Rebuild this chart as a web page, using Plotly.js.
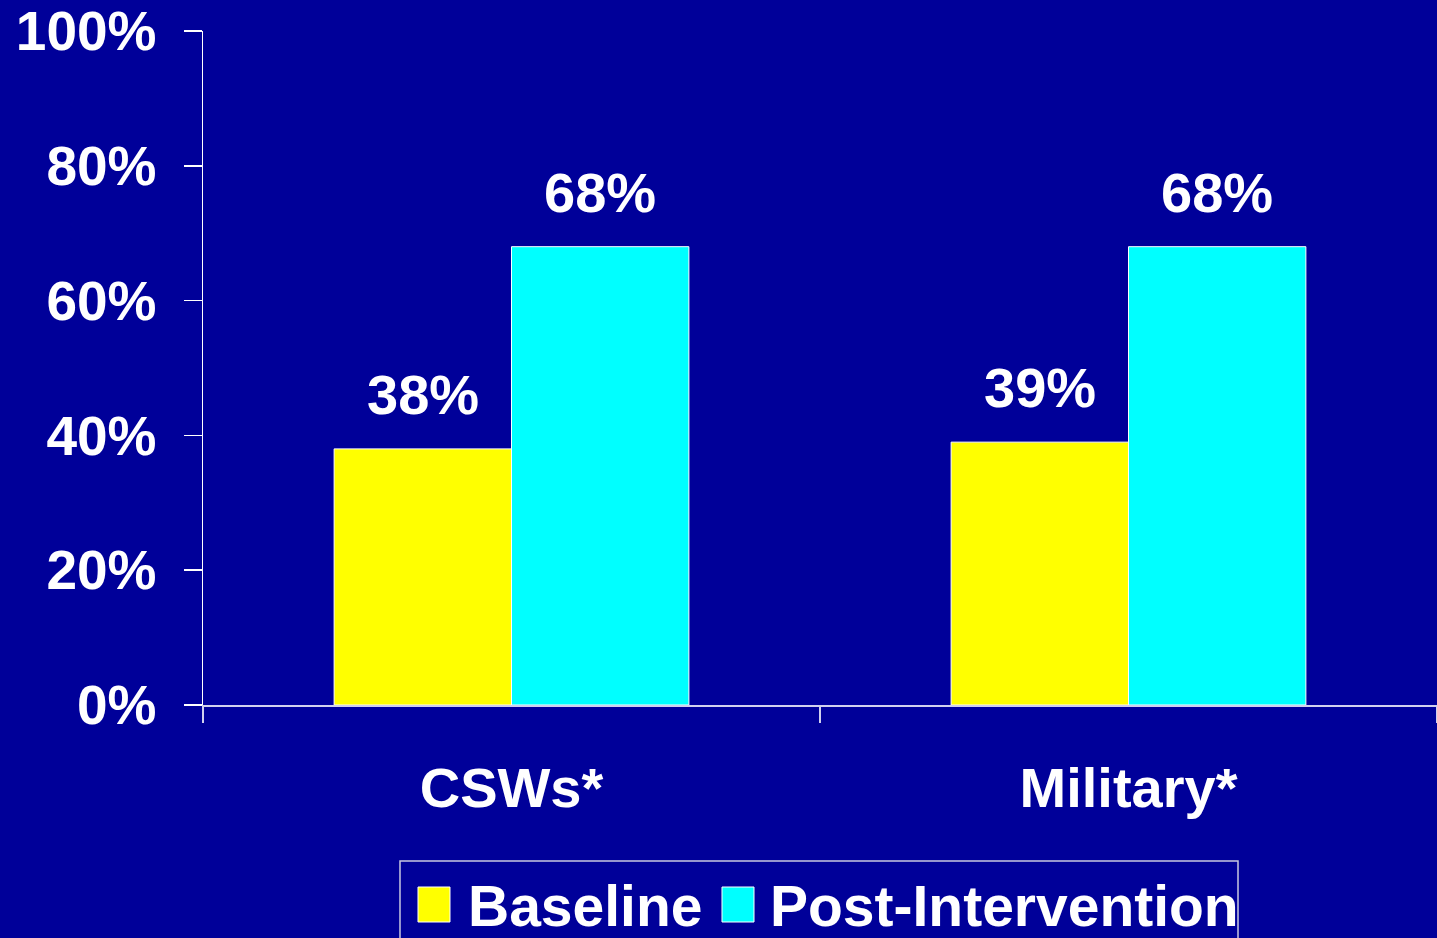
<!DOCTYPE html>
<html>
<head>
<meta charset="utf-8">
<script src="https://cdn.plot.ly/plotly-3.0.1.min.js"></script>
<style>
  html, body { margin: 0; padding: 0; background: #000099; }
  #chart { width: 1437px; height: 938px; }
</style>
</head>
<body>
<div id="chart"></div>
<script>
// ---- data ----
const categories = ["CSWs*", "Military*"];
const seriesNames = ["Baseline", "Post-Intervention"];
const baselineValues = [0.38, 0.39];
const postValues = [0.68, 0.68];
const seriesColors = ["#FFFF00", "#00FFFF"];
const yTickVals = [0, 0.2, 0.4, 0.6, 0.8, 1.0];
const yTickText = ["0%", "20%", "40%", "60%", "80%", "100%"];

const FONT = "Liberation Sans, Arial, Helvetica, sans-serif";
const BG = "#000099";
const BARGAP = 0.425;
const allValues = [baselineValues, postValues];

const traces = allValues.map((vals, i) => ({
  type: "bar",
  name: seriesNames[i],
  x: categories,
  y: vals,
  marker: { color: seriesColors[i], line: { color: "#ffffff", width: 1 } },
  hoverinfo: "skip"
}));

// data labels, placed over each bar through axis coordinates
const offset = (1 - BARGAP) / 4;
const annotations = [];
allValues.forEach((vals, s) => {
  vals.forEach((v, c) => {
    annotations.push({
      xref: "x", yref: "y",
      x: c + (s === 0 ? -offset : offset),
      y: v,
      yanchor: "bottom", xanchor: "center",
      yshift: 21,
      showarrow: false,
      text: Math.round(v * 100) + "%",
      font: { family: FONT, size: 56, color: "#ffffff", weight: "bold" }
    });
  });
});

// custom legend (large swatches like the reference)
const legendSwatchX = [[0.17423, 0.20016], [0.42058, 0.44652]];
const legendTextX = [0.21313, 0.45786];
const shapes = [
  { type: "rect", xref: "paper", yref: "paper", x0: 0.15964, x1: 0.83874, y0: -0.23145, y1: -0.3561,
    line: { color: "#c8c8e0", width: 1.5 }, fillcolor: "rgba(0,0,0,0)" }
];
seriesNames.forEach((n, i) => {
  shapes.push({ type: "rect", xref: "paper", yref: "paper",
    x0: legendSwatchX[i][0], x1: legendSwatchX[i][1], y0: -0.27003, y1: -0.32196,
    line: { color: "#ffffff", width: 1 }, fillcolor: seriesColors[i] });
  annotations.push({ xref: "paper", yref: "paper", x: legendTextX[i], y: -0.29822,
    xanchor: "left", yanchor: "middle", showarrow: false, text: n,
    font: { family: FONT, size: 57, color: "#ffffff", weight: "bold" } });
});

const layout = {
  width: 1437, height: 938,
  paper_bgcolor: BG, plot_bgcolor: BG,
  margin: { l: 203, r: 0, t: 31, b: 233, pad: 0 },
  barmode: "group", bargap: BARGAP, bargroupgap: 0,
  showlegend: false,
  font: { family: FONT, color: "#ffffff" },
  xaxis: {
    type: "category", range: [-0.5, 1.5],
    showline: true, linecolor: "#d0d0ee", linewidth: 1.5,
    ticks: "outside", tickson: "boundaries", ticklen: 16, tickcolor: "#d0d0ee", tickwidth: 1.5,
    ticklabelstandoff: 33,
    tickfont: { family: FONT, size: 56, color: "#ffffff", weight: "bold" },
    showgrid: false, zeroline: false, fixedrange: true
  },
  yaxis: {
    range: [0, 1],
    tickvals: yTickVals, ticktext: yTickText,
    showline: true, linecolor: "#ffffff", linewidth: 1.5,
    ticks: "outside", ticklen: 18, tickcolor: "#ffffff", tickwidth: 1.5,
    ticklabelstandoff: 16,
    tickfont: { family: FONT, size: 55, color: "#ffffff", weight: "bold" },
    showgrid: false, zeroline: false, fixedrange: true
  },
  shapes: shapes,
  annotations: annotations
};

Plotly.newPlot("chart", traces, layout, { staticPlot: true, displayModeBar: false });
</script>
</body>
</html>
